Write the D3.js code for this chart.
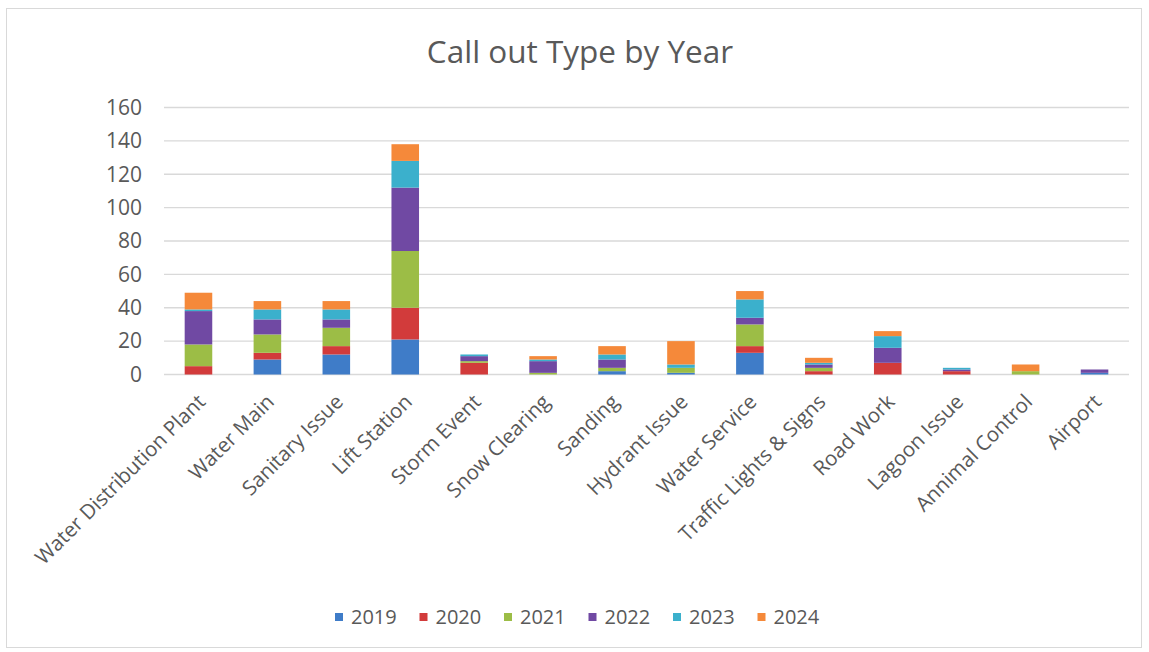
<!DOCTYPE html>
<html lang="en">
<head>
<meta charset="utf-8">
<title>Call out Type by Year</title>
<script src="https://cdn.jsdelivr.net/npm/d3@7"></script>
<style>
  body { margin: 0; background: #fff; }
  svg { display: block; font-family: "Open Sans", sans-serif; }
</style>
</head>
<body>
<div id="chart"></div>
<script>
// categories and values per year
var categories = ["Water Distribution Plant", "Water Main", "Sanitary Issue", "Lift Station",
  "Storm Event", "Snow Clearing", "Sanding", "Hydrant Issue", "Water Service",
  "Traffic Lights & Signs", "Road Work", "Lagoon Issue", "Annimal Control", "Airport"];
var years = ["2019", "2020", "2021", "2022", "2023", "2024"];
var v2019 = [0, 9, 12, 21, 0, 0, 2, 1, 13, 0, 0, 0, 0, 1];
var v2020 = [5, 4, 5, 19, 7, 0, 0, 0, 4, 2, 7, 2, 0, 0];
var v2021 = [13, 11, 11, 34, 1, 1, 2, 3, 13, 2, 0, 0, 2, 0];
var v2022 = [20, 9, 5, 38, 3, 7, 5, 0, 4, 2, 9, 1, 0, 2];
var v2023 = [1, 6, 6, 16, 1, 1, 3, 2, 11, 1, 7, 1, 0, 0];
var v2024 = [10, 5, 5, 10, 0, 2, 5, 14, 5, 3, 3, 0, 4, 0];
var yTicks = [0, 20, 40, 60, 80, 100, 120, 140, 160];

var series = [v2019, v2020, v2021, v2022, v2023, v2024];
var colors = ["#3f7cc8", "#d23b3b", "#9cbd46", "#7049a3", "#3bb0cc", "#f5893a"];

var W = 1149, H = 652;
var svg = d3.select("#chart").append("svg").attr("width", W).attr("height", H);

// chart frame
svg.append("rect").attr("x", 6.5).attr("y", 8.5).attr("width", 1135).attr("height", 639)
  .attr("fill", "#fff").attr("stroke", "#d9d9d9");

var x = d3.scaleBand().domain(categories).range([164, 1129]).paddingInner(0.6).paddingOuter(0.3);
var y = d3.scaleLinear().domain([0, 160]).range([374.5, 107.5]);

// gridlines
svg.append("g").selectAll("line").data(yTicks).enter().append("line")
  .attr("x1", 164).attr("x2", 1129)
  .attr("y1", function(d){ return y(d); }).attr("y2", function(d){ return y(d); })
  .attr("stroke", "#d9d9d9").attr("stroke-width", 1.3);

// y labels
svg.append("g").selectAll("text").data(yTicks).enter().append("text")
  .attr("x", 142).attr("y", function(d){ return y(d); })
  .attr("dy", "0.35em").attr("text-anchor", "end")
  .attr("font-size", 21).attr("fill", "#595959")
  .text(function(d){ return d; });

// stacked bars
var table = categories.map(function(c, i) {
  var row = { cat: c };
  years.forEach(function(yr, k){ row[yr] = series[k][i]; });
  return row;
});
var stack = d3.stack().keys(years)(table);

svg.append("g").selectAll("g").data(stack).enter().append("g")
  .attr("fill", function(d, k){ return colors[k]; })
  .selectAll("rect").data(function(d){ return d; }).enter().append("rect")
  .attr("x", function(d){ return x(d.data.cat); })
  .attr("width", x.bandwidth())
  .attr("y", function(d){ return y(d[1]); })
  .attr("height", function(d){ return y(d[0]) - y(d[1]); });

// category labels
svg.append("g").selectAll("text").data(categories).enter().append("text")
  .attr("transform", function(d){
    return "translate(" + (x(d) + x.bandwidth() / 2 + 3) + ",398) rotate(-45)";
  })
  .attr("text-anchor", "end").attr("dy", "0.35em")
  .attr("font-size", 20.5).attr("fill", "#595959")
  .text(function(d){ return d; });

// title
svg.append("text").attr("x", 580).attr("y", 63).attr("text-anchor", "middle")
  .attr("font-size", 31.5).attr("fill", "#595959")
  .text("Call out Type by Year");

// legend
var lg = svg.append("g").selectAll("g").data(years).enter().append("g")
  .attr("transform", function(d, i){ return "translate(" + (335 + i * 84.5) + ",617)"; });
lg.append("rect").attr("x", 0).attr("y", -4).attr("width", 8).attr("height", 8)
  .attr("fill", function(d, i){ return colors[i]; });
lg.append("text").attr("x", 16).attr("dy", "0.35em")
  .attr("font-size", 20).attr("fill", "#595959")
  .text(function(d){ return d; });
</script>
</body>
</html>
